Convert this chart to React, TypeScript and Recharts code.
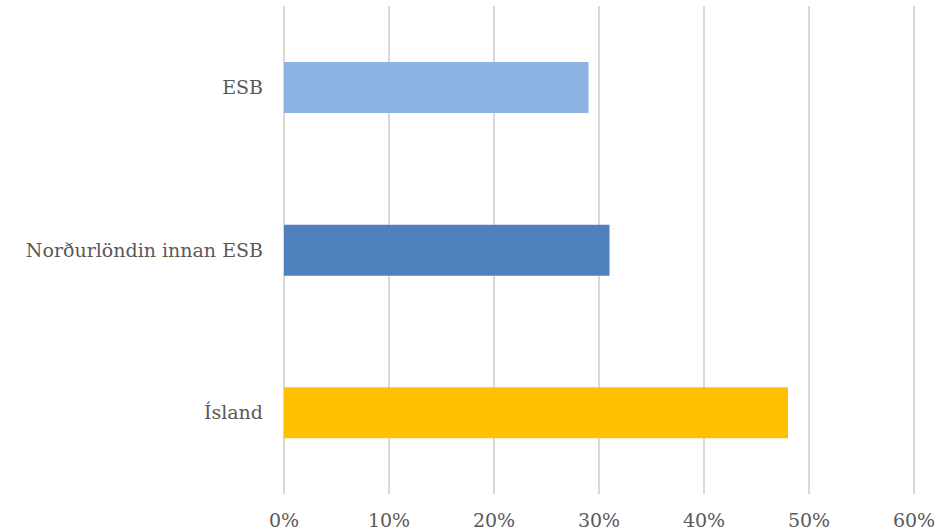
import React from "react";
import { BarChart, Bar, XAxis, YAxis, CartesianGrid, Cell } from "recharts";

const categories = ["ESB", "Norðurlöndin innan ESB", "Ísland"];
const values = [29, 31, 48];
const barColors = ["#8EB4E3", "#4F81BD", "#FFC000"];
const xTicks = [0, 10, 20, 30, 40, 50, 60];

const data = categories.map((name, i) => ({ name, value: values[i] }));

const FONT = "'DejaVu Serif', 'Liberation Serif', serif";
const tickStyle = { fontFamily: FONT, fontSize: 19, fill: "#595959" };

export default function App() {
  return (
    <div style={{ position: "absolute", left: 0, top: 0, background: "#fff", fontFamily: FONT }}>
      <BarChart
        width={941}
        height={532}
        data={data}
        layout="vertical"
        margin={{ top: 6, right: 27, bottom: 0, left: 0 }}
      >
        <CartesianGrid horizontal={false} stroke="#d9d9d9" strokeWidth={2} />
        <XAxis
          type="number"
          domain={[0, 60]}
          ticks={xTicks}
          tickFormatter={(v) => `${v}%`}
          axisLine={false}
          tickLine={false}
          tickSize={6}
          tickMargin={14}
          height={38}
          tick={tickStyle}
          interval={0}
        />
        <YAxis
          type="category"
          dataKey="name"
          width={284}
          axisLine={false}
          tickLine={false}
          tickSize={0}
          tickMargin={21}
          tick={tickStyle}
        />
        <Bar dataKey="value" barSize={51} isAnimationActive={false}>
          {data.map((d, i) => (
            <Cell key={d.name} fill={barColors[i]} />
          ))}
        </Bar>
      </BarChart>
    </div>
  );
}
